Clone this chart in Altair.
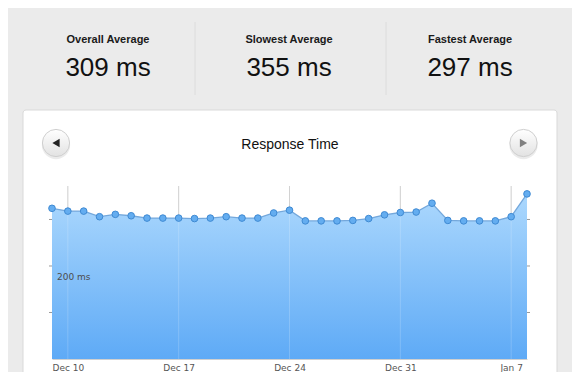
import altair as alt
import pandas as pd

# ---- data ----
dates = ["2012-12-09", "2012-12-10", "2012-12-11", "2012-12-12", "2012-12-13", "2012-12-14",
         "2012-12-15", "2012-12-16", "2012-12-17", "2012-12-18", "2012-12-19", "2012-12-20",
         "2012-12-21", "2012-12-22", "2012-12-23", "2012-12-24", "2012-12-25", "2012-12-26",
         "2012-12-27", "2012-12-28", "2012-12-29", "2012-12-30", "2012-12-31", "2013-01-01",
         "2013-01-02", "2013-01-03", "2013-01-04", "2013-01-05", "2013-01-06", "2013-01-07",
         "2013-01-08"]
response_ms = [324, 318, 318, 306, 311, 308, 303, 303, 303, 302, 303, 306, 303, 303, 314, 320,
               297, 297, 297, 298, 302, 310, 315, 316, 335, 298, 297, 297, 297, 306, 355]
stat_labels = ["Overall Average", "Slowest Average", "Fastest Average"]
stat_values = ["309 ms", "355 ms", "297 ms"]
chart_title = "Response Time"
y_label_values = [200]
y_tick_values = [100, 200, 300]
x_tick_dates = [(2012, 12, 10), (2012, 12, 17), (2012, 12, 24), (2012, 12, 31), (2013, 1, 7)]

# ---- layout (pixel offsets relative to the plot area) ----
W, H = 475, 173
stat_x = [56, 237, 418]
FONT_HEAD = "Liberation Sans"
FONT_AXIS = "DejaVu Sans"

df = pd.DataFrame({"date": dates, "ms": response_ms})
one = pd.DataFrame({"k": [0]})
tick_df = pd.DataFrame({"d": [f"{a}-{b:02d}-{c:02d}" for a, b, c in x_tick_dates]})

x_scale = alt.Scale(type="utc", nice=False,
                    domain=[alt.DateTime(year=2012, month=12, date=9, utc=True),
                            alt.DateTime(year=2013, month=1, date=8, utc=True)])
y_scale = alt.Scale(domain=[0, 372], nice=False, zero=True)

x_axis = alt.Axis(title=None,
                  values=[alt.DateTime(year=a, month=b, date=c, utc=True)
                          for a, b, c in x_tick_dates],
                  labelExpr="utcFormat(datum.value, '%b %-d')",
                  labelFont=FONT_AXIS, labelFontSize=9, labelColor="#555555",
                  labelPadding=4, ticks=False, domainColor="#d0d0d0",
                  grid=False, labelFlush=False, zindex=1)

# Background panels
gray_panel = alt.Chart(one).mark_rect(
    fill="#ebebeb", stroke="#d6d6d6", strokeWidth=1, cornerRadius=8
).encode(x=alt.value(-47), x2=alt.value(523), y=alt.value(-181), y2=alt.value(230))

white_panel = alt.Chart(one).mark_rect(
    fill="#ffffff", stroke="#d9d9d9", strokeWidth=1, cornerRadius=3
).encode(x=alt.value(-29), x2=alt.value(505), y=alt.value(-76), y2=alt.value(230))

dividers = [
    alt.Chart(one).mark_rule(color="#dcdcdc", strokeWidth=1).encode(
        x=alt.value(xv), y=alt.value(-164), y2=alt.value(-91))
    for xv in [143, 334]
]

stat_layers = []
for i in range(3):
    lab_df = pd.DataFrame({"label": [stat_labels[i]], "value": [stat_values[i]]})
    stat_layers.append(
        alt.Chart(lab_df).mark_text(font=FONT_HEAD, fontSize=11, fontWeight="bold",
                                    color="#1a1a1a", baseline="middle")
        .encode(x=alt.value(stat_x[i]), y=alt.value(-146), text="label:N"))
    stat_layers.append(
        alt.Chart(lab_df).mark_text(font=FONT_HEAD, fontSize=26, color="#111111",
                                    baseline="middle")
        .encode(x=alt.value(stat_x[i]), y=alt.value(-118), text="value:N"))

title_df = pd.DataFrame({"t": [chart_title]})
title = alt.Chart(title_df).mark_text(font=FONT_HEAD, fontSize=14, color="#111111",
                                      baseline="middle").encode(
    x=alt.value(238), y=alt.value(-41), text="t:N")

btn_grad = alt.Gradient(gradient="linear", x1=0, x2=0, y1=0, y2=1,
                        stops=[alt.GradientStop(color="#ffffff", offset=0),
                               alt.GradientStop(color="#e2e2e2", offset=1)])
buttons = []
for bx, shape, tcol in [(4, "triangle-left", "#222222"), (471.5, "triangle-right", "#808080")]:
    buttons.append(alt.Chart(one).mark_point(shape="circle", filled=True, size=800,
                                             color="#000000", opacity=0.08)
                   .encode(x=alt.value(bx), y=alt.value(-41)))
    buttons.append(alt.Chart(one).mark_point(shape="circle", filled=True, size=740,
                                             fill=btn_grad, stroke="#cfcfcf",
                                             strokeWidth=1, opacity=1)
                   .encode(x=alt.value(bx), y=alt.value(-43)))
    buttons.append(alt.Chart(one).mark_point(shape=shape, filled=True, size=70,
                                             color=tcol, opacity=1)
                   .encode(x=alt.value(bx), y=alt.value(-43)))

area_grad = alt.Gradient(gradient="linear", x1=1, x2=1, y1=1, y2=0,
                         stops=[alt.GradientStop(color="#5eaaf6", offset=0),
                                alt.GradientStop(color="#acd8fd", offset=1)])

base = alt.Chart(df)

grid_under = alt.Chart(tick_df).mark_rule(color="#c8c8c8", strokeWidth=1).encode(
    x=alt.X("d:T", scale=x_scale, axis=x_axis), y=alt.value(0), y2=alt.value(H))

area = base.mark_area(color=area_grad, opacity=1).encode(
    x=alt.X("date:T", scale=x_scale, axis=x_axis),
    y=alt.Y("ms:Q", scale=y_scale, axis=None),
)

grid_over = alt.Chart(tick_df).mark_rule(
    color="#ffffff", opacity=0.18, strokeWidth=1).encode(
    x=alt.X("d:T", scale=x_scale, axis=x_axis), y=alt.value(0), y2=alt.value(H))

line = base.mark_line(color="#74a8dc", strokeWidth=1.3).encode(
    x=alt.X("date:T", scale=x_scale, axis=x_axis),
    y=alt.Y("ms:Q", scale=y_scale, axis=None))

pts = base.mark_point(shape="circle", filled=True, size=44, fill="#64adf0",
                      stroke="#3f8ad3", strokeWidth=1, opacity=1).encode(
    x=alt.X("date:T", scale=x_scale, axis=x_axis),
    y=alt.Y("ms:Q", scale=y_scale, axis=None))

ytick_df = pd.DataFrame({"v": y_tick_values})
yticks_l = alt.Chart(ytick_df).mark_rule(color="#9a9a9a", strokeWidth=1).encode(
    y=alt.Y("v:Q", scale=y_scale, axis=None), x=alt.value(-3), x2=alt.value(0))
yticks_r = alt.Chart(ytick_df).mark_rule(color="#9a9a9a", strokeWidth=1).encode(
    y=alt.Y("v:Q", scale=y_scale, axis=None), x=alt.value(W), x2=alt.value(W + 3))

ylab_df = pd.DataFrame({"v": y_label_values, "t": [f"{v} ms" for v in y_label_values]})
ylabels = alt.Chart(ylab_df).mark_text(font=FONT_AXIS, fontSize=9, color="#4d4d4d",
                                       align="left", baseline="middle", dy=11).encode(
    y=alt.Y("v:Q", scale=y_scale, axis=None), x=alt.value(5), text="t:N")

chart = alt.layer(
    gray_panel, white_panel, *dividers, *stat_layers, title, *buttons,
    grid_under, area, grid_over, line, pts, yticks_l, yticks_r, ylabels
).properties(
    width=W, height=H,
    padding={"left": 44, "top": 178, "right": 45, "bottom": 13},
    autosize=alt.AutoSizeParams(type="none"),
    background="#ffffff",
).configure_view(stroke=None)

chart.save("out.html", embed_options={"renderer": "svg", "actions": False})
